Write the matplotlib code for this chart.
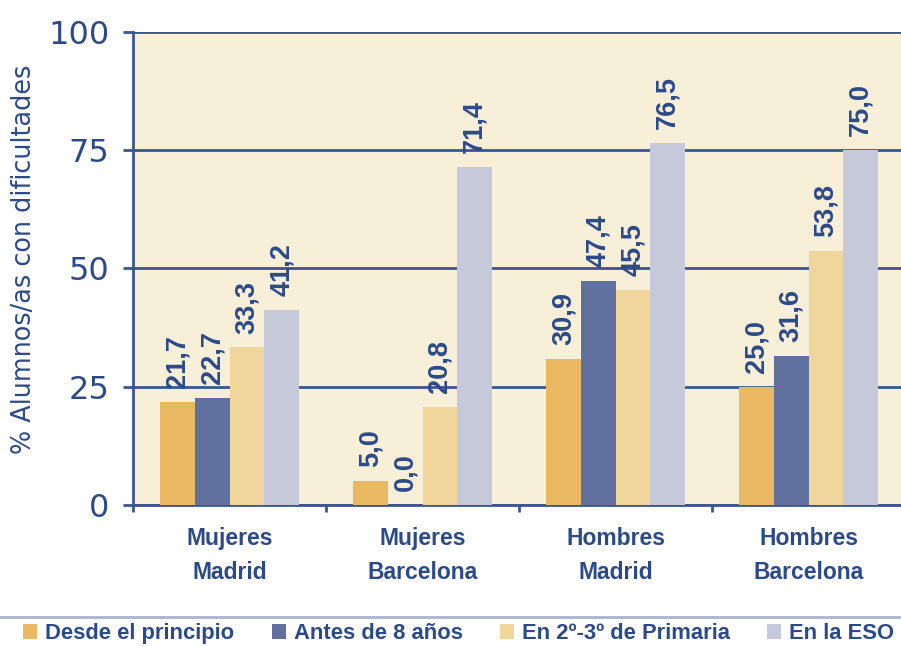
import matplotlib
matplotlib.use("Agg")
import matplotlib.pyplot as plt
from matplotlib.lines import Line2D
from matplotlib.patches import Patch
from matplotlib.ticker import FixedLocator
import numpy as np

# datos
grupos = ["Mujeres\nMadrid", "Mujeres\nBarcelona", "Hombres\nMadrid", "Hombres\nBarcelona"]
series = ["Desde el principio", "Antes de 8 años", "En 2º-3º de Primaria", "En la ESO"]
desde_principio = [21.7, 5.0, 30.9, 25.0]
antes_8 = [22.7, 0.0, 47.4, 31.6]
primaria = [33.3, 20.8, 45.5, 53.8]
eso = [41.2, 71.4, 76.5, 75.0]
valores = [desde_principio, antes_8, primaria, eso]

colores = ["#E8B962", "#60709F", "#F0D69D", "#C5C9DA"]
navy = "#2C4A8A"
fondo = "#F8EFD8"

fig = plt.figure(figsize=(9.01, 6.46), dpi=100)
ax = fig.add_axes([0.1476, 0.2183, 0.857, 0.7322])
ax.set_facecolor(fondo)

x = np.arange(len(grupos))
w = 0.18
for i, (vals, c) in enumerate(zip(valores, colores)):
    pos = x + (i - 1.5) * w
    bars = ax.bar(pos, vals, w, color=c, zorder=3)
    for xx, v in zip(pos, vals):
        ax.annotate(f"{v:.1f}".replace(".", ","), (xx, v), xytext=(0, 10),
                    textcoords="offset points", rotation=90, ha="center", va="bottom",
                    fontsize=19.5, fontweight="bold", color=navy,
                    family="Liberation Sans")

ax.set_xlim(-0.5, 3.5)
ax.set_ylim(0, 100)
ax.set_yticks([0, 25, 50, 75, 100])
ax.yaxis.grid(True, color="#3C5592", linewidth=2, zorder=1)
ax.set_axisbelow(True)

for s in ["top", "right"]:
    ax.spines[s].set_visible(False)
for s in ["left", "bottom"]:
    ax.spines[s].set_color("#3C5592")
    ax.spines[s].set_linewidth(2)

ax.tick_params(axis="y", length=7, width=2, color="#3C5592", pad=10,
               labelsize=23, labelcolor=navy)
ax.set_xticks(x)
ax.set_xticklabels(grupos, fontsize=16.5, fontweight="bold", color=navy,
                   family="Liberation Sans", linespacing=1.6)
ax.tick_params(axis="x", which="major", length=0, pad=16)
ax.xaxis.set_minor_locator(FixedLocator([-0.5, 0.5, 1.5, 2.5]))
ax.tick_params(axis="x", which="minor", length=5, width=2, color="#3C5592")

ax.set_ylabel("% Alumnos/as con dificultades", fontsize=18.4, color=navy)
ax.yaxis.set_label_coords(-0.124, 0.52)

# linea separadora y leyenda
fig.add_artist(Line2D([0, 1], [0.0449, 0.0449], color="#AAB3CE", linewidth=2))
handles = [Patch(facecolor=c, edgecolor="none") for c in colores]
leg = fig.legend(handles, series, loc="center left", bbox_to_anchor=(0.016, 0.0186),
                 ncol=4, frameon=False, handlelength=0.65, handleheight=0.65,
                 handletextpad=0.35, columnspacing=1.7, borderaxespad=0,
                 prop={"family": "Liberation Sans", "weight": "bold", "size": 15.8})
for t in leg.get_texts():
    t.set_color(navy)

plt.savefig("out.png", dpi=100)
